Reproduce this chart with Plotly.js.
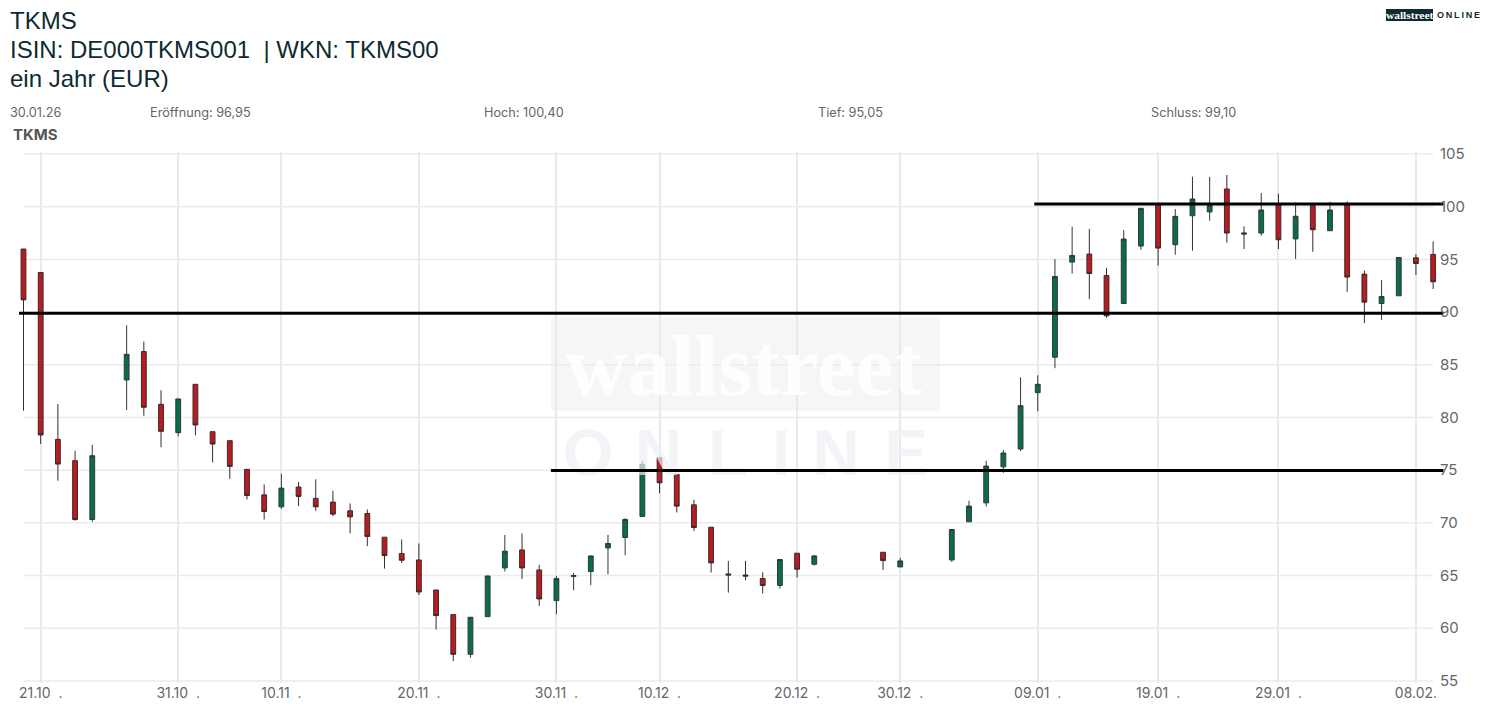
<!DOCTYPE html>
<html>
<head>
<meta charset="utf-8">
<script src="https://cdn.plot.ly/plotly-3.0.1.min.js"></script>
<style>
    html, body { margin: 0; padding: 0; background: #fff; }
</style>
</head>
<body>
<div id="chart"></div>
<script>
// trading slots, gaps are days without a candle
var slots = [0, 1, 2, 3, 4, 6, 7, 8, 9, 10, 11, 12, 13, 14, 15, 16, 17, 18, 19, 20, 21, 22, 23, 24, 25, 26, 27, 28, 29, 30, 31, 32, 33, 34, 35, 36, 37, 38, 39, 40, 41, 42, 43, 44, 45, 46, 50, 51, 54, 55, 56, 57, 58, 59, 60, 61, 62, 63, 64, 65, 66, 67, 68, 69, 70, 71, 72, 73, 74, 75, 76, 77, 78, 79, 80, 81, 82];
var opens = [95.99, 93.76, 77.93, 75.9, 70.32, 83.56, 86.26, 81.25, 78.56, 83.15, 78.65, 77.8, 75.08, 72.66, 71.52, 73.4, 72.32, 71.97, 71.14, 70.89, 68.64, 67.09, 66.48, 63.63, 61.29, 57.52, 61.1, 65.72, 67.43, 65.53, 62.62, 64.92, 65.38, 67.62, 68.61, 70.61, 76.18, 74.6, 71.71, 69.59, 65.15, 65.05, 64.71, 64.05, 67.12, 66.07, 67.21, 65.82, 66.48, 70.1, 71.9, 75.32, 77.01, 82.36, 85.72, 94.75, 95.51, 93.48, 90.82, 96.27, 100.15, 96.4, 99.15, 99.51, 101.69, 97.52, 97.51, 100.2, 96.95, 100.1, 97.73, 100.17, 93.61, 90.82, 91.55, 95.16, 95.48];
var highs = [95.99, 93.76, 81.28, 76.84, 77.42, 88.76, 87.21, 82.59, 81.76, 83.15, 78.65, 77.8, 75.08, 73.65, 74.66, 73.87, 74.13, 73.04, 71.84, 71.27, 68.64, 68.42, 68.04, 63.63, 61.29, 61.04, 64.96, 68.86, 68.99, 66.01, 64.96, 65.25, 66.9, 68.86, 70.45, 75.9, 76.18, 74.6, 72.19, 69.59, 66.39, 66.39, 65.31, 66.52, 67.12, 66.95, 67.21, 66.67, 69.37, 72.1, 75.9, 76.91, 83.82, 84.01, 95.04, 98.11, 97.89, 94.21, 97.79, 99.9, 100.15, 99.79, 102.86, 102.83, 103.02, 98.14, 101.31, 101.25, 100.4, 100.2, 100.48, 100.51, 93.95, 93.04, 95.19, 95.51, 96.71];
var lows = [80.65, 77.48, 74, 70.2, 70.1, 80.71, 80.17, 77.17, 78.21, 78.31, 75.74, 74.18, 72.22, 70.32, 71.33, 71.59, 71.14, 70.64, 69, 67.79, 65.66, 66.2, 63.16, 59.87, 56.88, 57.2, 61.1, 65.38, 64.68, 62.11, 61.32, 63.6, 64.08, 65.12, 66.93, 70.61, 72.8, 70.99, 69.24, 65.28, 63.38, 64.55, 63.29, 63.76, 64.81, 65.95, 65.53, 65.82, 66.29, 70.1, 71.56, 74.75, 76.82, 80.59, 84.68, 93.67, 91.24, 89.46, 90.82, 95.92, 94.43, 95.45, 95.83, 98.68, 96.59, 95.99, 97.25, 95.99, 95.05, 95.73, 97.73, 91.93, 88.95, 89.27, 91.55, 93.52, 92.19];
var closes = [91.17, 78.34, 75.58, 70.32, 76.37, 86, 80.97, 78.69, 81.76, 79.29, 77.48, 75.36, 72.6, 71.08, 73.3, 72.51, 71.52, 70.83, 70.57, 68.71, 66.9, 66.45, 63.44, 61.2, 57.52, 61.04, 64.96, 67.31, 65.72, 62.78, 64.71, 65, 66.86, 68.04, 70.32, 75.55, 73.8, 71.59, 69.56, 66.2, 65.05, 64.95, 64.05, 66.52, 65.6, 66.86, 66.42, 66.39, 69.37, 71.59, 75.39, 76.63, 81.12, 83.15, 93.38, 95.38, 93.67, 89.65, 96.94, 99.85, 96.08, 99.09, 100.74, 100.13, 97.51, 97.42, 99.7, 96.87, 99.1, 97.82, 99.7, 93.33, 90.95, 91.48, 95.19, 94.62, 92.88];

var xTickSlots = [1, 9, 15, 23, 31, 37, 45, 51, 59, 66, 73, 81];
var xTickLabels = ["21.10 \u00a0.", "31.10 \u00a0.", "10.11 \u00a0.", "20.11 \u00a0.", "30.11 \u00a0.", "10.12 \u00a0.", "20.12 \u00a0.", "30.12 \u00a0.", "09.01 \u00a0.", "19.01 \u00a0.", "29.01 \u00a0.", "08.02."];
var yTicks = [55, 60, 65, 70, 75, 80, 85, 90, 95, 100, 105];

// the three hand drawn levels
var levelValues = [89.9, 74.98, 100.26];
var levelStarts = [-0.26, 30.68, 58.8];
var levelEnd = 82.6;

var titleLines = ["TKMS", "ISIN: DE000TKMS001 \u00a0| WKN: TKMS00", "ein Jahr (EUR)"];
var infoLabels = ["30.01.26", "Eröffnung: 96,95", "Hoch: 100,40", "Tief: 95,05", "Schluss: 99,10"];

var watermarkLetters = ["O", "N", "L", "I", "N", "E"];
var watermarkSlots = [32.84, 36.92, 40.98, 44.07, 47.27, 51.34];

var W = 1490, H = 704;
var margin = { l: 17, r: 45, t: 152.4, b: 21.4 };
var uiFont = "Inter, 'Open Sans', sans-serif";

// place a text by page pixels
function pageText(text, px, py, size, color, extra) {
    var a = {
        text: text,
        xref: "paper", yref: "paper",
        x: (px - margin.l) / (W - margin.l - margin.r),
        y: 1 - (py - margin.t) / (H - margin.t - margin.b),
        xanchor: "left", yanchor: "middle",
        showarrow: false,
        borderpad: 0, borderwidth: 0,
        font: { family: uiFont, size: size, color: color }
    };
    return Object.assign(a, extra || {});
}

var infoX = [10, 150, 484, 818, 1151];
var annotations = [];
titleLines.forEach(function (t, i) {
    annotations.push(pageText(t, 10, 21 + i * 29, 24, "#0e2b30", { font: { family: "Liberation Sans, Arial", size: 24, color: "#0e2b30" } }));
});
infoLabels.forEach(function (t, i) {
    annotations.push(pageText(t, infoX[i], 112.5, 12.7, "#666666"));
});
annotations.push(pageText("<b>TKMS</b>", 13, 135, 15, "#555555"));
annotations.push(pageText("<b>wallstreet</b>", 1386, 16, 11, "#ffffff", {
    font: { family: "Liberation Serif", size: 11.4, color: "#ffffff" },
    bgcolor: "#0e2b30"
}));
annotations.push(pageText("<b>O\u2009N\u2009L\u2009I\u2009N\u2009E</b>", 1437, 16, 9, "#0e2b30", { font: { family: "Liberation Sans", size: 9, color: "#0e2b30" } }));

// grid stops at the first and last candle, so it is drawn by hand
var shapes = yTicks.map(function (v) {
    return {
        type: "line", layer: "below", xref: "x", yref: "y",
        x0: slots[0], x1: slots[slots.length - 1], y0: v, y1: v,
        line: { color: "#ebebeb", width: 1.5 }
    };
});
shapes.push({
    type: "rect", layer: "below", xref: "paper", yref: "paper",
    x0: (551 - margin.l) / (W - margin.l - margin.r), x1: (940 - margin.l) / (W - margin.l - margin.r),
    y0: 1 - (411 - margin.t) / (H - margin.t - margin.b), y1: 1 - (317 - margin.t) / (H - margin.t - margin.b),
    line: { width: 0 }, fillcolor: "rgba(233,237,241,0.5)"
});

var candles = {
    type: "candlestick",
    x: slots, open: opens, high: highs, low: lows, close: closes,
    increasing: { fillcolor: "#0a6b4d", line: { color: "#2f3a36", width: 1 } },
    decreasing: { fillcolor: "#b81c22", line: { color: "#3a2a2a", width: 1 } },
    whiskerwidth: 0,
    hoverinfo: "skip",
    showlegend: false
};

var watermarkWord = {
    type: "scatter", mode: "text",
    x: [41.9], y: [84.2],
    text: ["wallstreet"],
    textposition: "middle center",
    textfont: { family: "Liberation Serif", weight: "bold", size: 86, color: "rgba(255,255,255,0.85)" },
    hoverinfo: "skip", showlegend: false
};

var watermarkOnline = {
    type: "scatter", mode: "text",
    x: watermarkSlots, y: watermarkLetters.map(function () { return 76.1; }),
    text: watermarkLetters.map(function (l) { return "<b>" + l + "</b>"; }),
    textposition: "middle center",
    textfont: { family: "Liberation Sans", size: 65, color: "rgba(236,239,243,0.7)" },
    hoverinfo: "skip", showlegend: false
};

var levels = levelValues.map(function (v, i) {
    return {
        type: "scatter", mode: "lines",
        x: [levelStarts[i], levelEnd], y: [v, v],
        line: { color: "#000000", width: 3 },
        hoverinfo: "skip", showlegend: false
    };
});

var layout = {
    width: W, height: H,
    margin: margin,
    paper_bgcolor: "#ffffff", plot_bgcolor: "#ffffff",
    font: { family: uiFont, color: "#666666" },
    boxgap: 0.6,
    xaxis: {
        range: [-0.378, 82.69],
        tickmode: "array",
        tickvals: xTickSlots,
        ticktext: xTickLabels,
        tickfont: { family: uiFont, size: 14, color: "#666666" },
        tickangle: 0,
        showgrid: true, gridcolor: "#e9e9e9", gridwidth: 1.5,
        zeroline: false, showline: false, ticks: "",
        rangeslider: { visible: false }
    },
    yaxis: {
        side: "right",
        range: [54.8, 105.2],
        tickmode: "array",
        tickvals: yTicks,
        tickfont: { family: uiFont, size: 15, color: "#666666" },
        ticklabelstandoff: -6,
        showgrid: false, zeroline: false, showline: false, ticks: ""
    },
    shapes: shapes,
    annotations: annotations
};

var config = { responsive: false, displaylogo: false, displayModeBar: false };

Plotly.newPlot("chart", [candles, watermarkWord, watermarkOnline].concat(levels), layout, config);
</script>
</body>
</html>
